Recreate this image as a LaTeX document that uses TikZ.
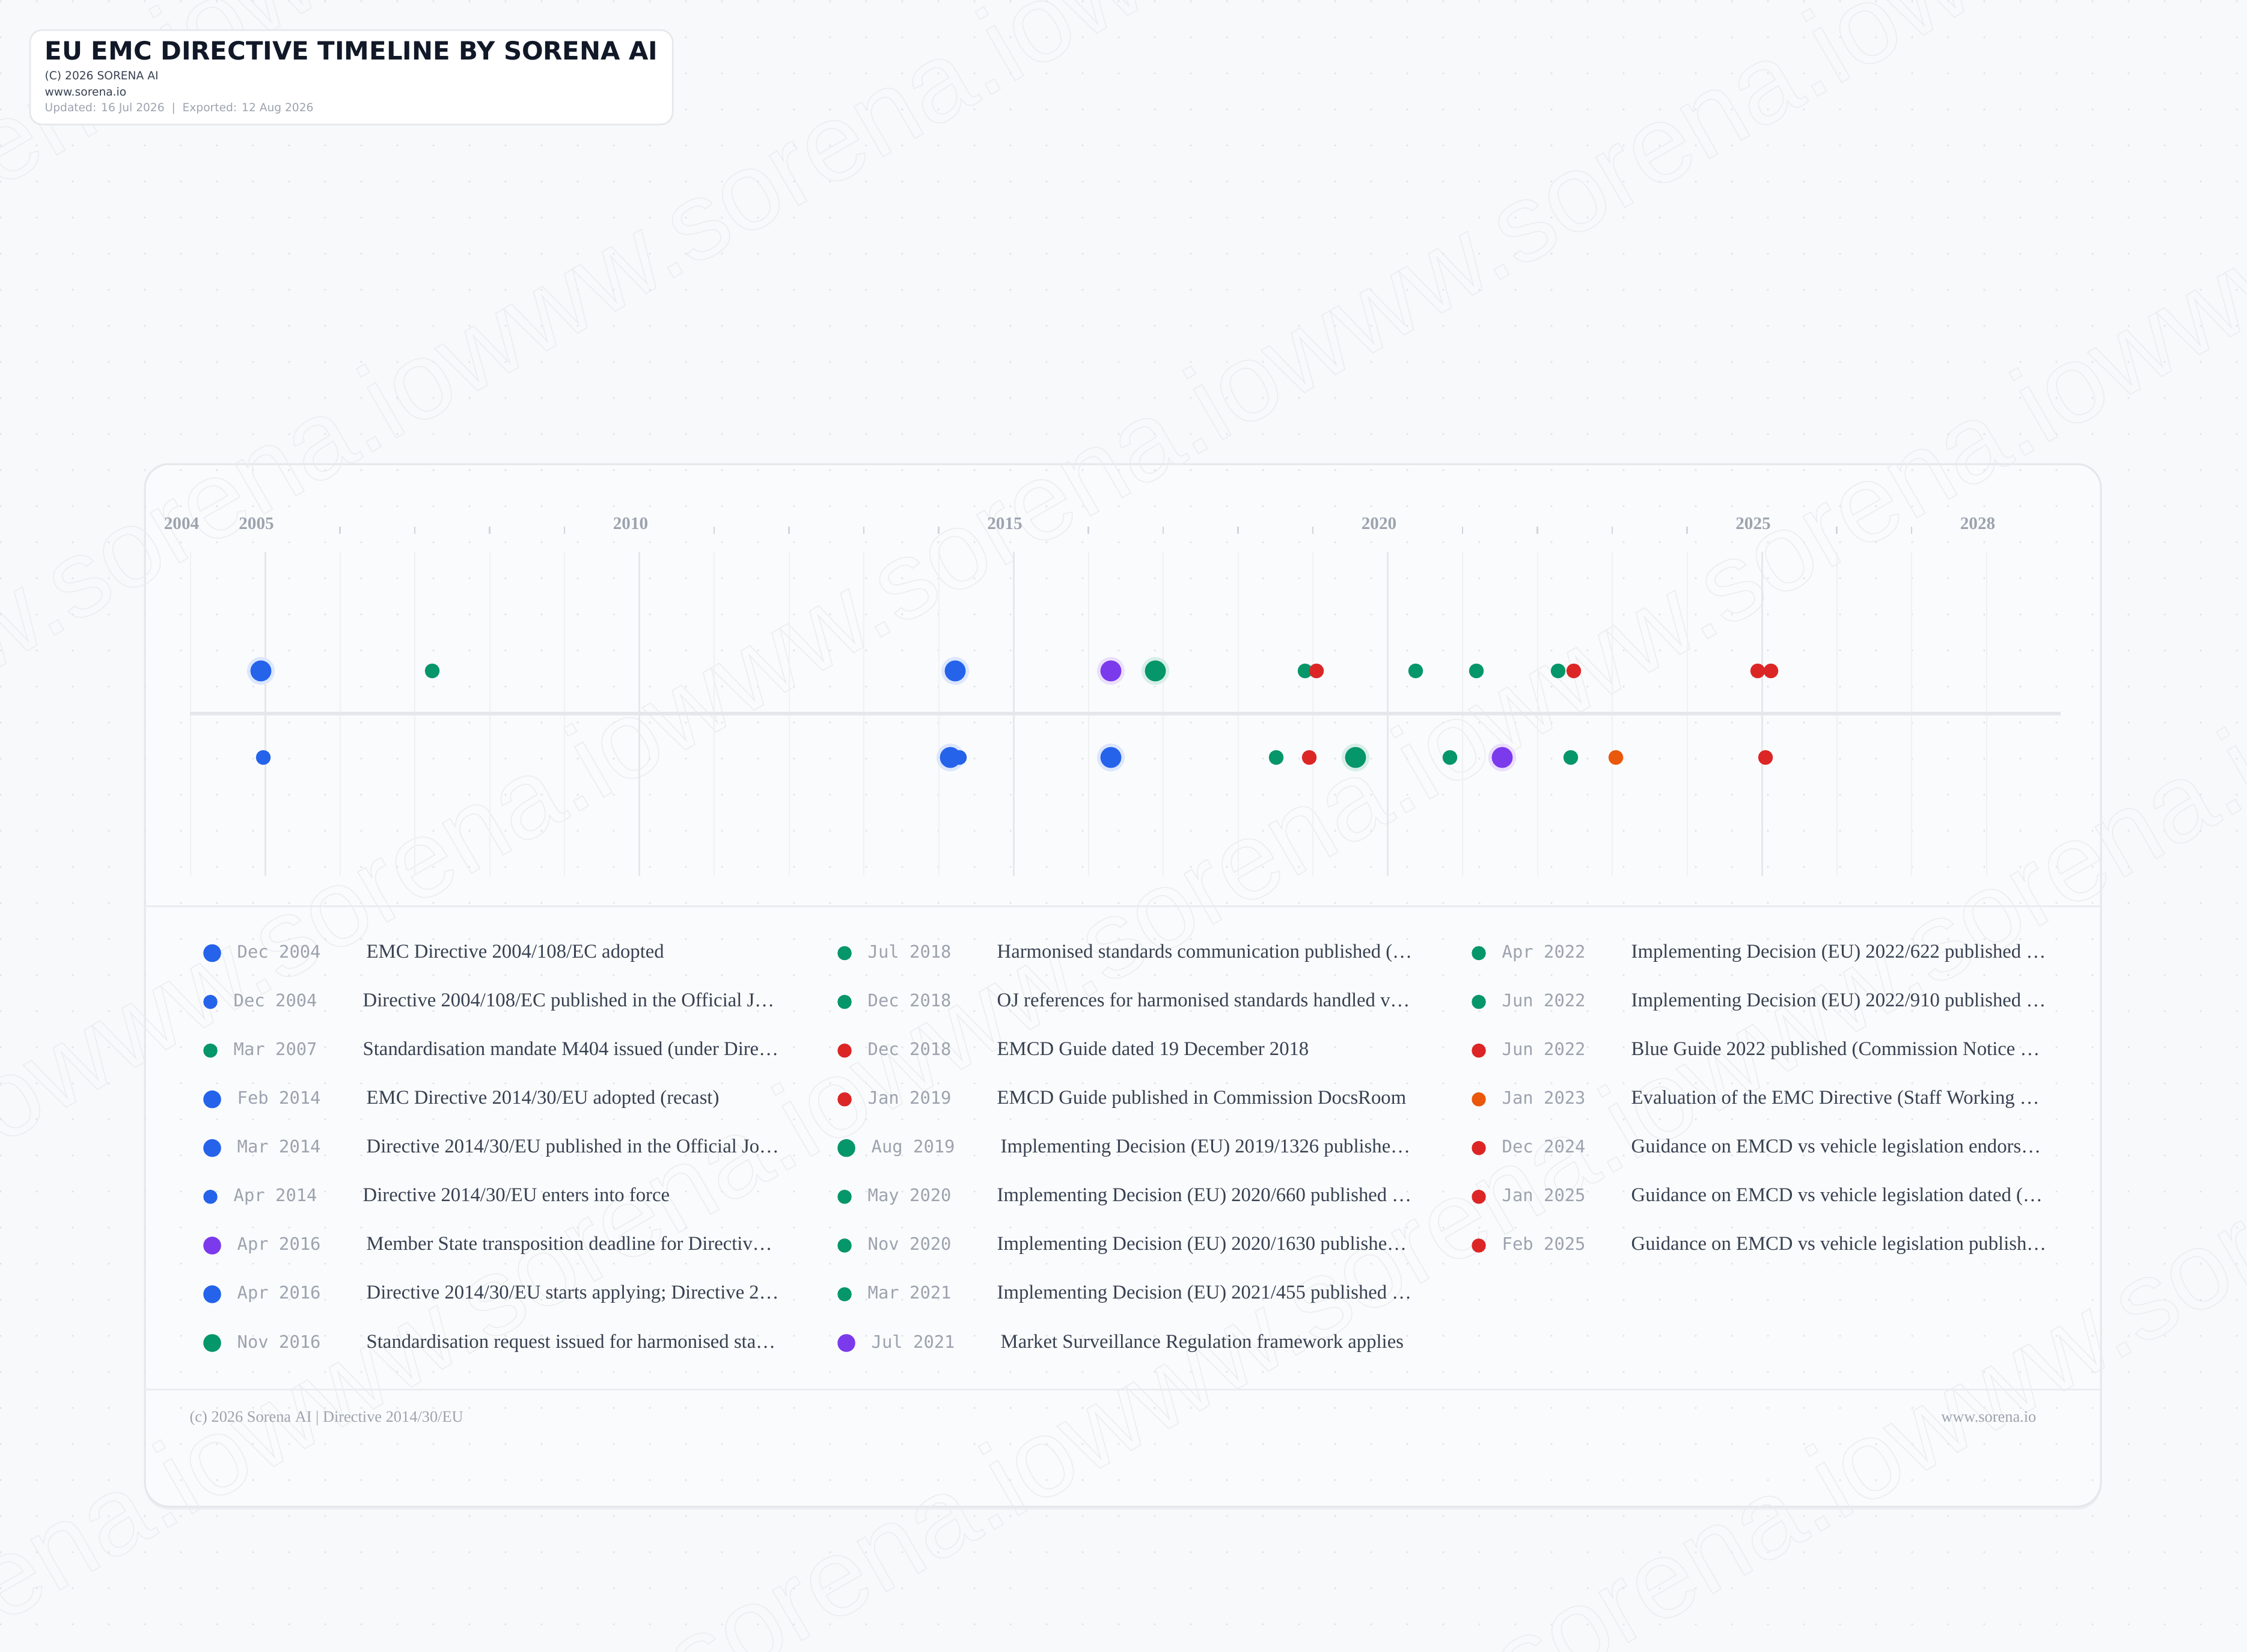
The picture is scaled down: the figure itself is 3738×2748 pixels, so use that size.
\documentclass[tikz,border=0pt]{standalone}
\usepackage{fontspec}
\setmainfont{Liberation Serif}
\newfontfamily\headfont{DejaVu Sans}
\newfontfamily\datefont{DejaVu Sans Mono}
\newfontfamily\markfont{Liberation Sans}

\definecolor{pagebg}{HTML}{F8F9FB}
\definecolor{panelbg}{HTML}{FAFBFC}
\definecolor{gridc}{HTML}{E5E7EB}
\definecolor{gridl}{HTML}{F0F1F3}
\definecolor{tickc}{HTML}{D1D5DB}
\definecolor{dotc}{HTML}{E1E4E8}
\definecolor{markc}{HTML}{EAECEF}
\definecolor{inkdark}{HTML}{111827}
\definecolor{inkmid}{HTML}{374151}
\definecolor{inklight}{HTML}{9CA3AF}
\definecolor{cblue}{HTML}{2563EB}
\definecolor{cgreen}{HTML}{059669}
\definecolor{cpurple}{HTML}{7C3AED}
\definecolor{cred}{HTML}{DC2626}
\definecolor{corange}{HTML}{EA580C}

% legend row: name, column x, row y, dot style, colour, shift, date, text
\newcommand{\legrow}[8]{%
  \node[#4=#5] (#1dot) at ({#2+#6/2},#3) {};
  \node[datelbl] (#1date) at ({#2+38+#6},#3) {#7};
  \node[desclbl] (#1txt) at ({#2+253+#6},#3) {#8};
}

\begin{document}
\begin{tikzpicture}[x=0.01cm,y=-0.01cm]
	\tikzset{
		tbig/.style={circle,inner sep=0pt,outer sep=0pt,minimum size=0.405cm,fill=#1,draw=#1!16,line width=0.055cm},
		tsmall/.style={circle,inner sep=0pt,outer sep=0pt,minimum size=0.245cm,fill=#1},
		legbig/.style={circle,inner sep=0pt,minimum size=0.295cm,fill=#1},
		legsmall/.style={circle,inner sep=0pt,minimum size=0.235cm,fill=#1},
		datelbl/.style={anchor=mid west,inner sep=0pt,text=inklight,font=\datefont\fontsize{8.2}{10}\selectfont},
		desclbl/.style={anchor=mid west,inner sep=0pt,text=inkmid,font=\fontsize{9.3}{11}\selectfont},
		yearlbl/.style={anchor=base,inner sep=0pt,text=inklight,font=\bfseries\fontsize{8.3}{10}\selectfont},
		hdsub/.style={anchor=base west,inner sep=0pt,text=inkmid,font=\headfont\fontsize{5.3}{7}\selectfont},
		footlbl/.style={inner sep=0pt,text=inklight,font=\fontsize{7.5}{9}\selectfont},
		gridmaj/.style={draw=gridc,line width=0.03cm},
		gridmin/.style={draw=gridl,line width=0.02cm},
		tickmark/.style={draw=tickc,line width=0.025cm},
		sepline/.style={draw=gridc!80,line width=0.03cm},
		wmark/.style={inner sep=0pt,text=markc,rotate=30,font=\markfont\fontsize{52}{60}\selectfont},
	}

	\useasboundingbox (0,0) rectangle (3738,2748);
	\fill[pagebg] (0,0) rectangle (3738,2748);

	% card
	\fill[gridc!70,rounded corners=0.4cm] (241,777) rectangle (3495,2511);
	\draw[fill=panelbg,draw=gridc,line width=0.03cm,rounded corners=0.4cm] (241,772) rectangle (3495,2506);

	% dotted paper
	\foreach \i in {0,...,62} {
		\foreach \j in {0,...,45} {
			\fill[dotc] (60*\i+1,60*\j+2) circle (0.018cm);
		}
	}

	% watermark
	\foreach \c [count=\k] in {205,895,1585,2275,2965,3655} {
		\node[wmark] (wm\k) at ({0.5*\c+806.8},{0.866*\c-465.8})
			{\special{pdf:literal direct 1 Tr 0.4 w}www.sorena.iowww.sorena.iowww.sorena.iowww.sorena.iowww.sorena.io\special{pdf:literal direct 0 Tr}};
	}

	% year grid
	\foreach \yr in {2004,...,2028} {
		\draw[gridmin] ({441+(\yr-2005)*124.5},918) -- ++(0,539);
	}
	\foreach \yr in {2005,2010,2015,2020,2025} {
		\draw[gridmaj] ({441+(\yr-2005)*124.5},918) -- ++(0,539);
	}
	\foreach \yr in {2006,2007,2008,2009,2011,2012,2013,2014,2016,2017,2018,2019,2021,2022,2023,2024,2026,2027} {
		\draw[tickmark] ({441+(\yr-2005)*124.5},876) -- ++(0,12);
	}
	\foreach \yr in {2004,2005,2010,2015,2020,2025,2028} {
		\node[yearlbl] (y\yr) at ({441+(\yr-2005)*124.5-14.5},880) {\yr};
	}

	\coordinate (axL) at (316,1187);
	\coordinate (axR) at (3428,1187);
	\draw[draw=gridc,line width=0.055cm] (axL) -- (axR);

	% above the axis
	\node[tbig=cblue] (t01) at (434,1116) {};
	\node[tsmall=cgreen] (t02) at (719,1116) {};
	\node[tbig=cblue] (t03) at (1589,1116) {};
	\node[tbig=cpurple] (t04) at (1848,1116) {};
	\node[tbig=cgreen] (t05) at (1922,1116) {};
	\node[tsmall=cgreen] (t06) at (2171,1116) {};
	\node[tsmall=cred] (t07) at (2190,1116) {};
	\node[tsmall=cgreen] (t08) at (2355,1116) {};
	\node[tsmall=cgreen] (t09) at (2456,1116) {};
	\node[tsmall=cgreen] (t10) at (2592,1116) {};
	\node[tsmall=cred] (t11) at (2618,1116) {};
	\node[tsmall=cred] (t12) at (2924,1116) {};
	\node[tsmall=cred] (t13) at (2946,1116) {};

	% below the axis
	\node[tsmall=cblue] (b01) at (438,1260) {};
	\node[tbig=cblue] (b02) at (1581,1260) {};
	\node[tsmall=cblue] (b03) at (1596,1260) {};
	\node[tbig=cblue] (b04) at (1848,1260) {};
	\node[tsmall=cgreen] (b05) at (2123,1260) {};
	\node[tsmall=cred] (b06) at (2178,1260) {};
	\node[tbig=cgreen] (b07) at (2255,1260) {};
	\node[tsmall=cgreen] (b08) at (2412,1260) {};
	\node[tbig=cpurple] (b09) at (2499,1260) {};
	\node[tsmall=cgreen] (b10) at (2613,1260) {};
	\node[tsmall=corange] (b11) at (2688,1260) {};
	\node[tsmall=cred] (b12) at (2937,1260) {};

	\draw[sepline] (241,1507) -- (3495,1507);

	% legend
	\legrow{a1}{350}{1585.5}{legbig}{cblue}{6}{Dec 2004}{EMC Directive 2004/108/EC adopted}
	\legrow{a2}{350}{1666.6}{legsmall}{cblue}{0}{Dec 2004}{Directive 2004/108/EC published in the Official J…}
	\legrow{a3}{350}{1747.6}{legsmall}{cgreen}{0}{Mar 2007}{Standardisation mandate M404 issued (under Dire…}
	\legrow{a4}{350}{1828.7}{legbig}{cblue}{6}{Feb 2014}{EMC Directive 2014/30/EU adopted (recast)}
	\legrow{a5}{350}{1909.7}{legbig}{cblue}{6}{Mar 2014}{Directive 2014/30/EU published in the Official Jo…}
	\legrow{a6}{350}{1990.8}{legsmall}{cblue}{0}{Apr 2014}{Directive 2014/30/EU enters into force}
	\legrow{a7}{350}{2071.9}{legbig}{cpurple}{6}{Apr 2016}{Member State transposition deadline for Directiv…}
	\legrow{a8}{350}{2152.9}{legbig}{cblue}{6}{Apr 2016}{Directive 2014/30/EU starts applying; Directive 2…}
	\legrow{a9}{350}{2234}{legbig}{cgreen}{6}{Nov 2016}{Standardisation request issued for harmonised sta…}

	\legrow{b1}{1405}{1585.5}{legsmall}{cgreen}{0}{Jul 2018}{Harmonised standards communication published (…}
	\legrow{b2}{1405}{1666.6}{legsmall}{cgreen}{0}{Dec 2018}{OJ references for harmonised standards handled v…}
	\legrow{b3}{1405}{1747.6}{legsmall}{cred}{0}{Dec 2018}{EMCD Guide dated 19 December 2018}
	\legrow{b4}{1405}{1828.7}{legsmall}{cred}{0}{Jan 2019}{EMCD Guide published in Commission DocsRoom}
	\legrow{b5}{1405}{1909.7}{legbig}{cgreen}{6}{Aug 2019}{Implementing Decision (EU) 2019/1326 publishe…}
	\legrow{b6}{1405}{1990.8}{legsmall}{cgreen}{0}{May 2020}{Implementing Decision (EU) 2020/660 published …}
	\legrow{b7}{1405}{2071.9}{legsmall}{cgreen}{0}{Nov 2020}{Implementing Decision (EU) 2020/1630 publishe…}
	\legrow{b8}{1405}{2152.9}{legsmall}{cgreen}{0}{Mar 2021}{Implementing Decision (EU) 2021/455 published …}
	\legrow{b9}{1405}{2234}{legbig}{cpurple}{6}{Jul 2021}{Market Surveillance Regulation framework applies}

	\legrow{c1}{2460}{1585.5}{legsmall}{cgreen}{0}{Apr 2022}{Implementing Decision (EU) 2022/622 published …}
	\legrow{c2}{2460}{1666.6}{legsmall}{cgreen}{0}{Jun 2022}{Implementing Decision (EU) 2022/910 published …}
	\legrow{c3}{2460}{1747.6}{legsmall}{cred}{0}{Jun 2022}{Blue Guide 2022 published (Commission Notice …}
	\legrow{c4}{2460}{1828.7}{legsmall}{corange}{0}{Jan 2023}{Evaluation of the EMC Directive (Staff Working …}
	\legrow{c5}{2460}{1909.7}{legsmall}{cred}{0}{Dec 2024}{Guidance on EMCD vs vehicle legislation endors…}
	\legrow{c6}{2460}{1990.8}{legsmall}{cred}{0}{Jan 2025}{Guidance on EMCD vs vehicle legislation dated (…}
	\legrow{c7}{2460}{2071.9}{legsmall}{cred}{0}{Feb 2025}{Guidance on EMCD vs vehicle legislation publish…}

	\draw[sepline] (241,2311) -- (3495,2311);
	\node[footlbl,anchor=base west] (footl) at (315,2365) {(c) 2026 Sorena AI | Directive 2014/30/EU};
	\node[footlbl,anchor=base east] (footr) at (3388,2365) {www.sorena.io};

	% header card
	\draw[fill=white,draw=gridc,line width=0.025cm,rounded corners=0.2cm] (50,50) rectangle (1119,207);
	\node[anchor=base west,inner sep=0pt,text=inkdark,font=\headfont\bfseries\fontsize{11.9}{14}\selectfont] (title) at (74,100) {EU EMC DIRECTIVE TIMELINE BY SORENA AI};
	\node[hdsub] (copy) at (74,133) {(C) 2026 SORENA AI};
	\node[hdsub] (site) at (74,159) {www.sorena.io};
	\node[hdsub,text=inklight] (stamp) at (74,185) {Updated: 16 Jul 2026\ \ |\ \ Exported: 12 Aug 2026};

\end{tikzpicture}
\end{document}
